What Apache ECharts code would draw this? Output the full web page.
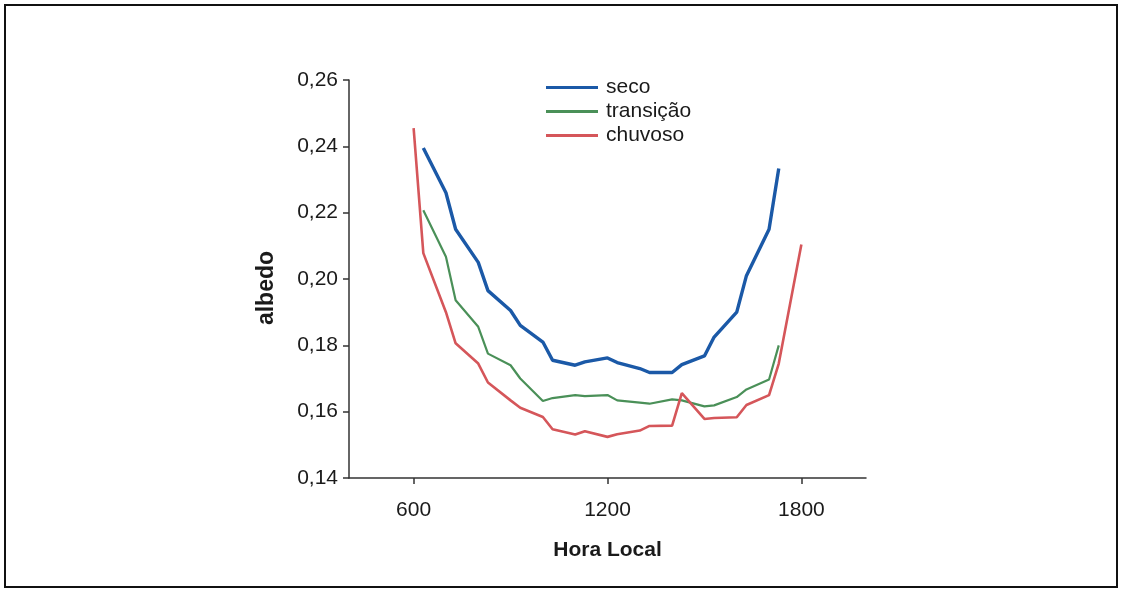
<!DOCTYPE html>
<html>
<head>
<meta charset="utf-8">
<script src="https://cdn.jsdelivr.net/npm/echarts@6/dist/echarts.min.js"></script>
<style>
  html, body { margin: 0; padding: 0; background: #fff; }
  #chart { width: 1121px; height: 591px; }
</style>
</head>
<body>
<div id="chart"></div>
<script>
// Local time in HHMM form (half-hour steps)
const horaSeco = [630, 700, 730, 800, 830, 900, 930, 1000, 1030, 1100, 1130, 1200, 1230, 1300, 1330, 1400, 1430, 1500, 1530, 1600, 1630, 1700, 1730];
const albedoSeco = [0.2395, 0.2260, 0.2150, 0.2050, 0.1965, 0.1905, 0.1860, 0.1810, 0.1755, 0.1740, 0.1750, 0.1762, 0.1748, 0.1730, 0.1718, 0.1718, 0.1742, 0.1768, 0.1825, 0.1900, 0.2010, 0.2150, 0.2333];

const horaTransicao = [630, 700, 730, 800, 830, 900, 930, 1000, 1030, 1100, 1130, 1200, 1230, 1300, 1330, 1400, 1430, 1500, 1530, 1600, 1630, 1700, 1730];
const albedoTransicao = [0.2207, 0.2067, 0.1936, 0.1856, 0.1775, 0.1740, 0.1700, 0.1632, 0.1641, 0.1650, 0.1647, 0.1650, 0.1634, 0.1627, 0.1624, 0.1637, 0.1634, 0.1616, 0.1619, 0.1644, 0.1667, 0.1697, 0.1800];

const horaChuvoso = [600, 630, 700, 730, 800, 830, 900, 930, 1000, 1030, 1100, 1130, 1200, 1230, 1300, 1330, 1400, 1430, 1500, 1530, 1600, 1630, 1700, 1730, 1800];
const albedoChuvoso = [0.2455, 0.2078, 0.1900, 0.1806, 0.1745, 0.1688, 0.1634, 0.1612, 0.1584, 0.1547, 0.1531, 0.1541, 0.1524, 0.1532, 0.1543, 0.1557, 0.1558, 0.1656, 0.1578, 0.1581, 0.1583, 0.1620, 0.1650, 0.1745, 0.2104];

const xTicks = [600, 1200, 1800];
const yTicks = [0.14, 0.16, 0.18, 0.20, 0.22, 0.24, 0.26];

const FONT = '"Liberation Sans", Arial, sans-serif';
const pair = (xs, ys) => xs.map((x, i) => [x, ys[i]]);

const chart = echarts.init(document.getElementById('chart'), null, { renderer: 'canvas' });

chart.setOption({
  backgroundColor: '#ffffff',
  animation: false,
  textStyle: { fontFamily: FONT },
  grid: { left: 349, right: 255, top: 80, bottom: 113, containLabel: false },
  legend: {
    orient: 'vertical',
    left: 546,
    top: 77,
    padding: 0,
    itemWidth: 52,
    itemHeight: 3,
    itemGap: 3,
    icon: 'rect',
    textStyle: { fontFamily: FONT, fontSize: 21, color: '#1a1a1a', padding: [0, 0, 0, 3] },
    data: ['seco', 'transição', 'chuvoso']
  },
  xAxis: {
    type: 'value',
    min: 400,
    max: 2000,
    name: 'Hora Local',
    nameLocation: 'middle',
    nameGap: 62,
    nameTextStyle: { fontFamily: FONT, fontSize: 21, fontWeight: 'bold', color: '#1a1a1a' },
    axisLine: { show: true, lineStyle: { color: '#333', width: 1.5 } },
    axisTick: { show: true, length: 6, lineStyle: { color: '#333', width: 1.5 }, customValues: xTicks },
    axisLabel: {
      customValues: xTicks, fontFamily: FONT, fontSize: 21, color: '#1a1a1a', margin: 22,
      formatter: v => String(v)
    },
    splitLine: { show: false }
  },
  yAxis: {
    type: 'value',
    min: 0.14,
    max: 0.26,
    interval: 0.02,
    name: 'albedo',
    nameLocation: 'middle',
    nameGap: 71,
    nameRotate: 90,
    nameTextStyle: { fontFamily: FONT, fontSize: 23, fontWeight: 'bold', color: '#1a1a1a', padding: [0, 18, 0, 0] },
    axisLine: { show: true, lineStyle: { color: '#333', width: 1.5 } },
    axisTick: { show: true, length: 6, lineStyle: { color: '#333', width: 1.5 }, customValues: yTicks },
    axisLabel: {
      customValues: yTicks,
      fontFamily: FONT, fontSize: 21, color: '#1a1a1a', margin: 11,
      formatter: v => v.toFixed(2).replace('.', ',')
    },
    splitLine: { show: false }
  },
  series: [
    {
      name: 'seco', type: 'line', showSymbol: false, symbol: 'none',
      data: pair(horaSeco, albedoSeco),
      itemStyle: { color: '#1b59a7' },
      lineStyle: { color: '#1b59a7', width: 3.4 }
    },
    {
      name: 'transição', type: 'line', showSymbol: false, symbol: 'none',
      data: pair(horaTransicao, albedoTransicao),
      itemStyle: { color: '#4a9058' },
      lineStyle: { color: '#4a9058', width: 2.2 }
    },
    {
      name: 'chuvoso', type: 'line', showSymbol: false, symbol: 'none',
      data: pair(horaChuvoso, albedoChuvoso),
      itemStyle: { color: '#d5565a' },
      lineStyle: { color: '#d5565a', width: 2.6 }
    }
  ],
  graphic: [
    {
      type: 'rect',
      shape: { x: 5, y: 5, width: 1112, height: 582 },
      style: { fill: 'none', stroke: '#111', lineWidth: 2 },
      silent: true
    }
  ]
});
</script>
</body>
</html>
